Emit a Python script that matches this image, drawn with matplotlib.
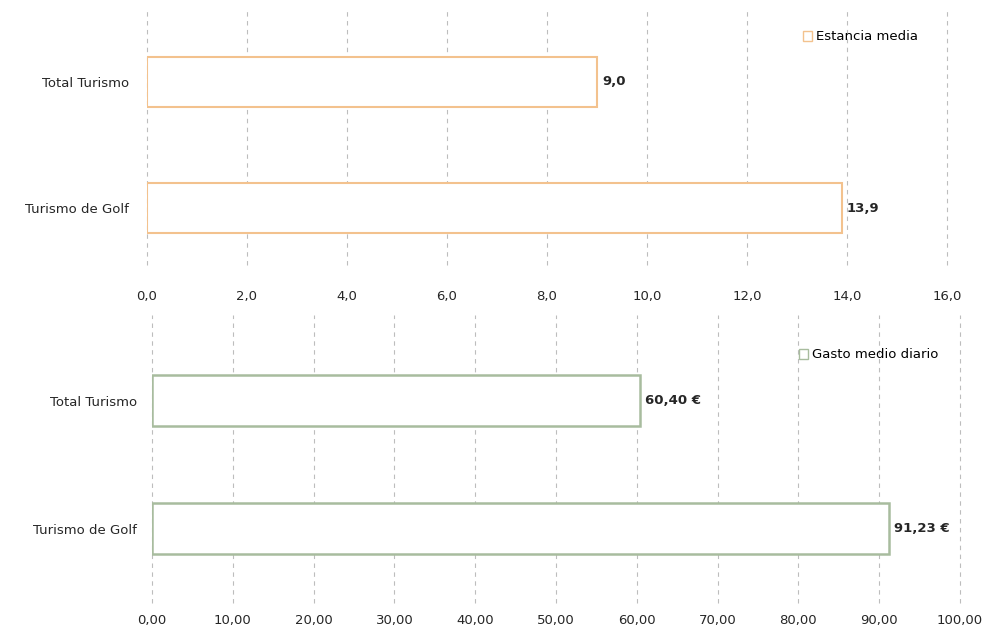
import matplotlib
matplotlib.use("Agg")
import matplotlib.pyplot as plt
from matplotlib.patches import Patch

# datos
categorias = ["Turismo de Golf", "Total Turismo"]
estancia_media = [13.9, 9.0]
gasto_medio = [91.23, 60.40]
ticks_estancia = [0, 2, 4, 6, 8, 10, 12, 14, 16]
ticks_gasto = [0, 10, 20, 30, 40, 50, 60, 70, 80, 90, 100]

naranja = "#F3C28E"
verde = "#A8BC9E"
texto = "#262626"

plt.rcParams["font.family"] = ["DejaVu Sans"]

fig = plt.figure(figsize=(9.89, 6.32), dpi=100)
H = 632.0

# grafico superior: estancia media (px 8 .. 265)
ax1 = fig.add_axes([0.1486, 1 - 265 / H, 0.8089, 257 / H])
ax1.barh(categorias, estancia_media, height=0.4, color="white",
         edgecolor=naranja, linewidth=1.5, zorder=3)
ax1.set_xlim(0, 16)
ax1.set_ylim(-0.452, 1.587)
ax1.set_xticks(ticks_estancia)
ax1.set_xticklabels([f"{t:.1f}".replace(".", ",") for t in ticks_estancia])
for v, c in zip(estancia_media, categorias):
    ax1.text(v + 0.1, c, f"{v:.1f}".replace(".", ","), va="center", ha="left",
             fontsize=9.5, fontweight="bold", color=texto)
fig.legend(handles=[Patch(facecolor="white", edgecolor=naranja, label="Estancia media")],
           loc="center left", bbox_to_anchor=(0.812, 1 - 37 / H), frameon=False,
           fontsize=9.5, handlelength=0.7, handleheight=0.7, handletextpad=0.3,
           borderaxespad=0, borderpad=0)

# grafico inferior: gasto medio diario (px 315 .. 603)
ax2 = fig.add_axes([0.1537, 1 - 603 / H, 0.817, 288 / H])
ax2.barh(categorias, gasto_medio, height=0.4, color="white",
         edgecolor=verde, linewidth=1.8, zorder=3)
ax2.set_xlim(0, 100)
ax2.set_ylim(-0.58, 1.67)
ax2.set_xticks(ticks_gasto)
ax2.set_xticklabels([f"{t:.2f}".replace(".", ",") for t in ticks_gasto])
for v, c in zip(gasto_medio, categorias):
    ax2.text(v + 0.6, c, f"{v:.2f}".replace(".", ",") + " €", va="center", ha="left",
             fontsize=9.5, fontweight="bold", color=texto)
fig.legend(handles=[Patch(facecolor="white", edgecolor=verde, label="Gasto medio diario")],
           loc="center left", bbox_to_anchor=(0.808, 1 - 355 / H), frameon=False,
           fontsize=9.5, handlelength=0.7, handleheight=0.7, handletextpad=0.3,
           borderaxespad=0, borderpad=0)

for ax, xpad, ypad in ((ax1, 18, 13), (ax2, 8, 11)):
    for s in ax.spines.values():
        s.set_visible(False)
    ax.grid(axis="x", linestyle=(0, (4, 4)), color="#BDBDBD", linewidth=0.8, zorder=0)
    for gl in ax.get_xgridlines():
        gl.set_clip_on(False)
    ax.tick_params(axis="x", length=0, labelsize=9.5, colors=texto, pad=xpad)
    ax.tick_params(axis="y", length=0, labelsize=9.5, colors=texto, pad=ypad)

fig.savefig("out.png", dpi=100)
